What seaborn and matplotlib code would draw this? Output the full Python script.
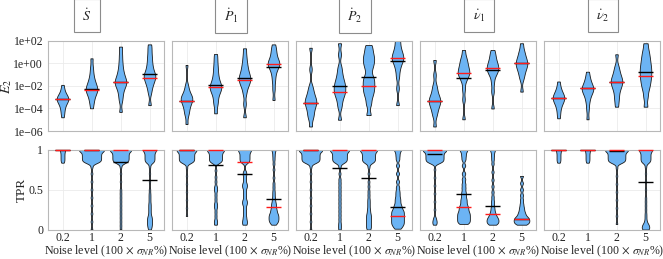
import numpy as np
import pandas as pd
import matplotlib
matplotlib.use("Agg")
import matplotlib.pyplot as plt
from matplotlib.ticker import FixedLocator, FuncFormatter, NullLocator
import seaborn as sns

# ---------------- data ----------------
LEVELS = ["0.2", "1", "2", "5"]
PANELS = ["S", "P1", "P2", "v1", "v2"]
TITLES = [r"$\dot{S}$", r"$\dot{P}_1$", r"$\dot{P}_2$", r"$\dot{\nu}_1$", r"$\dot{\nu}_2$"]

# E2 samples (log10 values) per panel, per noise level
e2_S = [
    [-1.9, -2.3, -2.6, -2.8, -2.95, -3.05, -3.1, -3.15, -3.2, -3.3, -3.45, -3.6, -3.8, -4.1, -4.4, -4.78],
    [0.46, -0.3, -0.8, -1.2, -1.5, -1.7, -1.9, -2.05, -2.2, -2.3, -2.4, -2.55, -2.7, -2.9, -3.2, -3.5, -3.98],
    [1.5, 0.8, 0.2, -0.3, -0.7, -1.0, -1.25, -1.45, -1.6, -1.75, -1.9, -2.1, -2.4, -2.8, -3.3, -4.3],
    [1.7, 1.2, 0.7, 0.3, -0.1, -0.4, -0.7, -0.9, -1.05, -1.2, -1.35, -1.55, -1.8, -2.1, -2.6, -3.7],
]
e2_P1 = [
    [-0.13, -1.9, -2.3, -2.6, -2.8, -2.95, -3.05, -3.15, -3.25, -3.4, -3.55, -3.75, -4.0, -4.3, -4.6, -5.38],
    [0.84, 0.3, -0.2, -0.6, -1.0, -1.3, -1.6, -1.8, -1.95, -2.1, -2.25, -2.4, -2.6, -2.9, -3.3, -3.7, -4.43],
    [1.35, 0.7, 0.2, -0.2, -0.5, -0.8, -1.0, -1.2, -1.35, -1.5, -1.7, -1.9, -2.2, -2.7, -3.6, -4.78],
    [1.7, 1.3, 1.0, 0.7, 0.45, 0.25, 0.1, 0.0, -0.1, -0.25, -0.45, -0.7, -1.1, -1.6, -2.3, -3.24],
]
e2_P2 = [
    [1.4, -0.5, -2.0, -2.4, -2.7, -2.95, -3.15, -3.3, -3.45, -3.6, -3.8, -4.0, -4.3, -4.6, -4.9, -5.6],
    [1.8, 0.8, -0.3, -0.8, -1.2, -1.5, -1.75, -1.95, -2.15, -2.35, -2.55, -2.75, -3.0, -3.4, -3.9, -5.0],
    [1.64, 1.2, 0.8, 0.5, 0.2, -0.1, -0.5, -1.1, -1.4, -1.7, -2.0, -2.3, -2.6, -3.0, -3.6, -4.58],
    [2.4, 2.0, 1.6, 1.25, 1.0, 0.8, 0.6, 0.45, 0.3, 0.1, -0.2, -0.6, -1.2, -2.2, -3.7],
]
e2_v1 = [
    [0.31, -1.0, -1.9, -2.3, -2.65, -2.9, -3.1, -3.25, -3.4, -3.55, -3.75, -4.0, -4.3, -4.7, -5.6],
    [1.2, 0.6, 0.3, 0.05, -0.2, -0.4, -0.6, -0.75, -0.9, -1.05, -1.25, -1.6, -2.3, -3.2, -4.96],
    [1.2, 0.8, 0.5, 0.2, 0.0, -0.2, -0.35, -0.5, -0.65, -0.85, -1.1, -1.7, -2.5, -4.0],
    [1.8, 1.2, 0.9, 0.6, 0.4, 0.2, 0.05, -0.1, -0.25, -0.45, -0.7, -1.0, -1.4, -2.5],
]
e2_v2 = [
    [-1.6, -2.1, -2.4, -2.6, -2.8, -2.9, -3.0, -3.1, -3.2, -3.35, -3.5, -3.7, -4.0, -4.4, -4.87],
    [-0.73, -1.2, -1.5, -1.75, -1.95, -2.1, -2.2, -2.3, -2.45, -2.6, -2.8, -3.1, -3.5, -4.1, -4.96],
    [0.82, -0.2, -0.6, -0.9, -1.15, -1.35, -1.5, -1.65, -1.8, -2.0, -2.2, -2.5, -2.9, -3.3, -3.84],
    [1.8, 1.2, 0.8, 0.45, 0.15, -0.15, -0.4, -0.65, -0.9, -1.15, -1.4, -1.7, -2.0, -2.4, -3.0, -3.84],
]
# E2 summary lines (log10): red = median, black = mean
e2_red = {
    "S": [-3.16, -2.36, -1.67, -1.32], "P1": [-3.33, -2.10, -1.50, -0.04],
    "P2": [-3.50, -2.56, -2.00, 0.46], "v1": [-3.30, -0.81, -0.37, 0.00],
    "v2": [-3.04, -2.15, -1.64, -1.14],
}
e2_black = {
    "S": [-3.16, -2.30, -1.67, -0.93], "P1": [-3.33, -1.90, -1.30, -0.28],
    "P2": [-3.50, -2.00, -1.23, 0.22], "v1": [-3.30, -1.26, -0.58, 0.00],
    "v2": [-3.04, -2.15, -1.64, -0.78],
}

# TPR samples: a block of values near 1 (BOX / NIB, repeated) plus tail values
BOX = [0.835, 0.85, 0.865, 0.88, 0.895, 0.91, 0.925, 0.94, 0.955, 0.97, 0.985, 1.0, 1.0, 1.0]
NIB = [0.875, 0.92, 0.96, 1.0, 1.0]
tpr_box = {"S": [1, 3, 3, 2], "P1": [3, 2, 1, 0], "P2": [3, 2, 2, 0], "v1": [3, 0, 0, 0], "v2": [1, 1, 3, 2]}
tpr_nib = {"S": [0, 0, 0, 0], "P1": [0, 0, 0, 1], "P2": [0, 0, 0, 1], "v1": [0, 1, 1, 0], "v2": [0, 0, 0, 0]}
tail_S = [
    [],
    [0.0, 0.1, 0.2, 0.3, 0.4, 0.5, 0.6, 0.7, 0.78],
    [0.0, 0.05, 0.1, 0.15, 0.2, 0.25, 0.3, 0.35, 0.4, 0.45, 0.5, 0.6, 0.7, 0.78],
    [0.0, 0.02, 0.04, 0.055, 0.07, 0.085, 0.1, 0.115, 0.13, 0.145, 0.16, 0.18, 0.21, 0.24,
     0.27, 0.3, 0.33, 0.37, 0.41, 0.45, 0.5, 0.6, 0.7, 0.78],
]
tail_P1 = [
    [0.17, 0.27, 0.37, 0.47, 0.57, 0.67, 0.77],
    [0.06, 0.09, 0.12, 0.17, 0.22, 0.27, 0.3, 0.33, 0.38, 0.43, 0.48, 0.51, 0.54, 0.6, 0.66, 0.74],
    [0.06, 0.09, 0.12, 0.16, 0.21, 0.26, 0.31, 0.34, 0.37, 0.42, 0.47, 0.52, 0.55, 0.58, 0.63, 0.68, 0.72],
    [0.06, 0.075, 0.09, 0.1, 0.11, 0.12, 0.13, 0.14, 0.15, 0.16, 0.17, 0.18, 0.19, 0.2, 0.215,
     0.23, 0.245, 0.26, 0.28, 0.3, 0.32, 0.34, 0.37, 0.4, 0.44, 0.48, 0.53, 0.58, 0.65, 0.75, 0.82],
]
tail_P2 = [
    [0.0, 0.1, 0.2, 0.3, 0.4, 0.5, 0.6, 0.7, 0.78],
    [0.0, 0.04, 0.08, 0.13, 0.18, 0.23, 0.28, 0.33, 0.38, 0.43, 0.48, 0.53, 0.58, 0.63, 0.7, 0.78],
    [0.0, 0.02, 0.04, 0.06, 0.08, 0.1, 0.12, 0.14, 0.16, 0.18, 0.2, 0.23, 0.26, 0.3, 0.34,
     0.38, 0.43, 0.48, 0.54, 0.6, 0.7, 0.78],
    [0.01, 0.03, 0.05, 0.063, 0.076, 0.09, 0.103, 0.116, 0.13, 0.143, 0.156, 0.17, 0.183,
     0.196, 0.21, 0.223, 0.236, 0.25, 0.27, 0.29, 0.31, 0.34, 0.37, 0.4, 0.44, 0.48, 0.53,
     0.6, 0.7, 0.8],
]
tail_v1 = [
    [0.06, 0.08, 0.1, 0.12, 0.15, 0.25, 0.35, 0.45, 0.55, 0.65, 0.75],
    [0.07, 0.085, 0.1, 0.115, 0.13, 0.145, 0.16, 0.175, 0.19, 0.205, 0.22, 0.24, 0.26, 0.28,
     0.3, 0.33, 0.36, 0.39, 0.43, 0.47, 0.52, 0.57, 0.63, 0.7, 0.8],
    [0.06, 0.07, 0.08, 0.09, 0.1, 0.11, 0.12, 0.13, 0.14, 0.15, 0.165, 0.18, 0.2, 0.22, 0.25,
     0.28, 0.32, 0.36, 0.41, 0.47, 0.54, 0.62, 0.72, 0.82],
    [0.06, 0.07, 0.08, 0.09, 0.1, 0.11, 0.12, 0.13, 0.14, 0.15, 0.16, 0.18, 0.2, 0.22, 0.25,
     0.28, 0.32, 0.37, 0.43, 0.5, 0.58, 0.67],
]
tail_v2 = [
    [],
    [],
    [0.07, 0.17, 0.27, 0.37, 0.47, 0.57, 0.67, 0.77],
    [0.0, 0.0, 0.01, 0.02, 0.03, 0.04, 0.05, 0.06, 0.07, 0.09, 0.12, 0.16, 0.2, 0.25, 0.3,
     0.35, 0.4, 0.5, 0.6, 0.7, 0.78],
]
tpr_red = {"S": [1, 1, 1, 1], "P1": [1, 1, 0.84, 0.28], "P2": [1, 1, 1, 0.17],
           "v1": [1, 0.28, 0.2, 0.13], "v2": [1, 1, 1, 1]}
tpr_black = {"S": [1, 1, 0.85, 0.625], "P1": [1, 0.81, 0.69, 0.38], "P2": [1, 0.77, 0.64, 0.28],
             "v1": [0.95, 0.45, 0.3, 0.13], "v2": [1, 1, 0.98, 0.6]}

E2 = {"S": e2_S, "P1": e2_P1, "P2": e2_P2, "v1": e2_v1, "v2": e2_v2}
TAILS = {"S": tail_S, "P1": tail_P1, "P2": tail_P2, "v1": tail_v1, "v2": tail_v2}

# ---------------- style ----------------
FILL = "#6cb4f4"
EDGE = "#1a1a1a"
FRAME = "#b8b8b8"
GRID = "#ebebeb"
TOP_W = 0.40
BOT_W = {"S": [0.17, 0.85, 0.72, 0.44], "P1": [0.68, 0.58, 0.44, 0.34],
         "P2": [0.80, 0.65, 0.58, 0.44], "v1": [0.80, 0.44, 0.41, 0.54],
         "v2": [0.17, 0.17, 0.78, 0.44]}
BW_TOP = 0.32   # kernel width in decades
BW_BOT = 0.022  # kernel width in TPR units

sns.set_style("white")
plt.rcParams["font.family"] = ["Liberation Serif", "DejaVu Serif"]
plt.rcParams["mathtext.fontset"] = "stix"

W, H = 663, 259
fig = plt.figure(figsize=(W / 100, H / 100), dpi=100)

lefts = [48, 172, 296, 420, 544]
pw = 116
top_y0, top_y1 = 41, 131
bot_y0, bot_y1 = 149.5, 229.5
title_x = [87, 231, 355, 479, 603]


def style_axes(ax):
    for s in ax.spines.values():
        s.set_color(FRAME)
        s.set_linewidth(0.8)
    ax.set_axisbelow(True)
    ax.grid(True, color=GRID, linewidth=0.6)
    ax.tick_params(length=2, color=FRAME, labelsize=8.5, labelcolor="#222222", pad=1.5)
    ax.set_xlim(-0.5, 3.5)


def sci(v, _):
    return f"{v:.0e}".replace("-", "\u2212")


for p_i, p in enumerate(PANELS):
    ax_t = fig.add_axes([lefts[p_i] / W, 1 - top_y1 / H, pw / W, (top_y1 - top_y0) / H])
    ax_b = fig.add_axes([lefts[p_i] / W, 1 - bot_y1 / H, pw / W, (bot_y1 - bot_y0) / H])

    for i, lev in enumerate(LEVELS):
        logv = np.asarray(E2[p][i], dtype=float)
        df = pd.DataFrame({"level": [lev] * len(logv), "E2": 10.0 ** logv})
        sns.violinplot(data=df, x="level", y="E2", order=LEVELS, ax=ax_t, log_scale=True,
                       cut=0, inner=None, width=TOP_W, density_norm="width",
                       bw_method=BW_TOP / np.std(logv), gridsize=300, color=FILL,
                       saturation=1, linecolor=EDGE, linewidth=0.6)

        samp = BOX * tpr_box[p][i] + NIB * tpr_nib[p][i] + TAILS[p][i]
        samp = np.asarray(samp, dtype=float)
        dfb = pd.DataFrame({"level": [lev] * len(samp), "TPR": samp})
        sns.violinplot(data=dfb, x="level", y="TPR", order=LEVELS, ax=ax_b,
                       cut=0, inner=None, width=BOT_W[p][i], density_norm="width",
                       bw_method=BW_BOT / np.std(samp), gridsize=400, color=FILL,
                       saturation=1, linecolor=EDGE, linewidth=0.6)

    xs = np.arange(len(LEVELS))
    ax_t.hlines(10.0 ** np.asarray(e2_black[p]), xs - 0.25, xs + 0.25, color="black", lw=1.0, zorder=5)
    ax_t.hlines(10.0 ** np.asarray(e2_red[p]), xs - 0.25, xs + 0.25, color="#ff1a1a", lw=1.0, zorder=6)
    ax_b.hlines(tpr_black[p], xs - 0.25, xs + 0.25, color="black", lw=1.0, zorder=5, clip_on=False)
    ax_b.hlines(tpr_red[p], xs - 0.25, xs + 0.25, color="#ff1a1a", lw=1.0, zorder=6, clip_on=False)

    # top axis
    style_axes(ax_t)
    ax_t.set_ylim(1e-6, 1e2)
    ax_t.yaxis.set_major_locator(FixedLocator([1e-6, 1e-4, 1e-2, 1e0, 1e2]))
    ax_t.yaxis.set_minor_locator(NullLocator())
    ax_t.yaxis.set_major_formatter(FuncFormatter(sci))
    ax_t.set_xticks(range(4))
    ax_t.tick_params(axis="x", length=0, labelbottom=False)
    ax_t.set_xlabel("")
    ax_t.set_ylabel("")

    # bottom axis
    style_axes(ax_b)
    ax_b.set_ylim(0, 1)
    ax_b.set_yticks([0, 0.5, 1])
    ax_b.set_yticklabels(["0", "0.5", "1"])
    ax_b.set_xticks(range(4))
    ax_b.set_xticklabels(LEVELS)
    ax_b.tick_params(axis="x", length=0, pad=1.5)
    ax_b.set_xlabel(r"Noise level (100 $\times$ $\sigma_{NR}$%)", fontsize=8.6, va="center")
    ax_b.xaxis.set_label_coords(0.5, (bot_y1 - 251.5) / (bot_y1 - bot_y0))
    ax_b.set_ylabel("")

    if p_i == 0:
        ax_t.set_ylabel(r"$E_2$", fontsize=10, va="center")
        ax_t.yaxis.set_label_coords((7 - lefts[0]) / pw, 0.5)
        ax_b.set_ylabel("TPR", fontsize=9.5, va="center")
        ax_b.yaxis.set_label_coords((22 - lefts[0]) / pw, 0.5)
    else:
        ax_t.tick_params(axis="y", labelleft=False, length=0)
        ax_b.tick_params(axis="y", labelleft=False, length=0)

    fig.text(title_x[p_i] / W, 1 - 15.5 / H, TITLES[p_i], ha="center", va="center", fontsize=10,
             bbox=dict(boxstyle="square,pad=0.6", facecolor="white", edgecolor="#8c8c8c", linewidth=0.8))

fig.savefig("out.png", dpi=100)
